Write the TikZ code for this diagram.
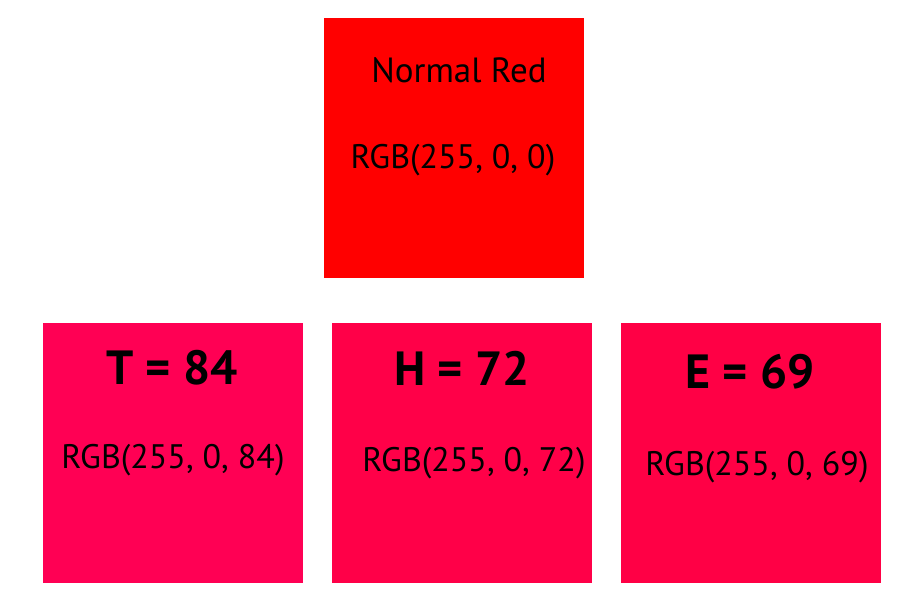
\documentclass[tikz,border=0pt]{standalone}
\usepackage{fontspec}
\setmainfont{PT Sans}
\definecolor{cRed}{RGB}{255,0,0}
\definecolor{cT}{RGB}{255,0,84}
\definecolor{cH}{RGB}{255,0,72}
\definecolor{cE}{RGB}{255,0,69}
\tikzset{
  sq/.style={fill=#1, draw=none, minimum width=130pt, minimum height=130pt, inner sep=0pt, anchor=north west},
  title/.style={font=\fontsize{17.5}{21}\selectfont, text=black, inner sep=0pt},
  big/.style={font=\fontsize{24}{28}\selectfont\bfseries, text=black, inner sep=0pt},
  rgb/.style={font=\fontsize{17}{20}\selectfont, text=black, inner sep=0pt},
}
\begin{document}
\begin{tikzpicture}[x=0.5pt,y=-0.5pt]
\useasboundingbox (0,0) rectangle (900,603);
\node[sq=cRed] (red) at (324,18) {};
\node[sq=cT] (t) at (43,323) {};
\node[sq=cH] (h) at (332,323) {};
\node[sq=cE] (e) at (621,323) {};
\node[title] (redname) at (459,70) {Normal Red};
\node[rgb] (redrgb) at (453,160) {RGB(255, 0, 0)};
\node[big] (tname) at (172,368) {T = 84};
\node[rgb] (trgb) at (173,460) {RGB(255, 0, 84)};
\node[big] (hname) at (462,368) {H = 72};
\node[rgb] (hrgb) at (474,463) {RGB(255, 0, 72)};
\node[big] (ename) at (750,372) {E = 69};
\node[rgb] (ergb) at (757,467) {RGB(255, 0, 69)};
\end{tikzpicture}
\end{document}
